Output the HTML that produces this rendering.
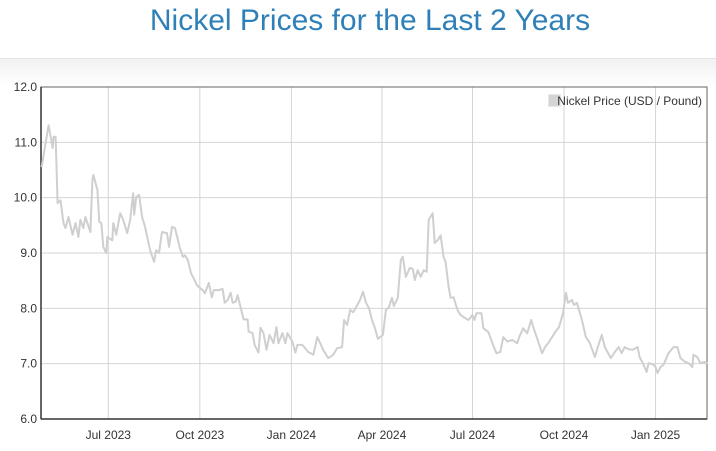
<!DOCTYPE html>
<html><head><meta charset="utf-8"><style>
html,body{margin:0;padding:0;background:#fff;width:716px;height:451px;overflow:hidden;font-family:"Liberation Sans",sans-serif}
#title{position:absolute;left:0;top:4px;width:740px;text-align:center;font-size:30px;color:#2f80b8}
#band{position:absolute;left:0;top:58px;width:716px;height:28px;border-top:1px solid #e4e4e4;background:linear-gradient(#f1f1f1,#fff)}
svg{position:absolute;left:0;top:0}
</style></head><body>
<div id="title">Nickel Prices for the Last 2 Years</div>
<div id="band"></div>
<svg id="chart" width="716" height="451"></svg>
<script>
// days since 2023-07-01
const days=[-67,-63,-60,-56,-55,-53,-51,-48,-45,-43,-40,-36,-33,-30,-28,-25,-23,-18,-16,-15,-11,-9,-7,-5,-2,-1,4,5,8,12,15,19,22,25,26,28,31,34,37,42,46,48,51,54,59,61,64,67,72,75,77,80,83,85,89,92,95,97,
101,104,106,111,115,117,120,123,125,128,130,133,136,140,141,145,147,151,153,156,159,162,166,169,171,175,178,180,185,188,190,195,201,206,210,213,216,221,226,230,235,237,240,243,246,249,253,256,259,262,265,268,271,276,279,282,285,287,291,294,296,299,
303,306,308,311,314,317,320,322,326,328,331,334,337,339,342,344,347,351,354,359,362,366,368,370,375,377,382,386,390,394,397,401,406,411,413,417,421,425,427,431,436,439,442,446,449,453,457,460,462,466,468,471,476,480,484,489,492,496,499,
505,509,513,516,519,523,527,532,534,538,541,543,548,550,552,555,558,563,568,572,575,580,583,587,588,592,595,599,602];
const prices=[10.55,10.99,11.31,10.9,11.1,11.1,9.9,9.95,9.54,9.45,9.65,9.33,9.54,9.29,9.6,9.45,9.65,9.38,10.32,10.41,10.14,9.56,9.54,9.11,9.0,9.29,9.23,9.54,9.33,9.72,9.6,9.36,9.6,10.08,9.69,10.01,10.05,9.65,9.47,9.05,8.84,9.05,9.0,9.38,9.36,9.11,9.47,9.45,9.09,8.93,8.96,8.87,8.64,8.57,8.42,8.37,8.33,8.27,
8.46,8.2,8.33,8.33,8.35,8.1,8.15,8.28,8.1,8.12,8.24,8.02,7.8,7.8,7.58,7.55,7.34,7.2,7.65,7.55,7.25,7.52,7.37,7.66,7.37,7.55,7.37,7.55,7.4,7.2,7.34,7.34,7.21,7.16,7.48,7.37,7.25,7.1,7.16,7.28,7.3,7.79,7.7,7.97,7.93,8.02,8.15,8.3,8.1,8.0,7.79,7.64,7.45,7.52,7.97,8.02,8.19,8.04,8.19,8.87,8.93,8.57,
8.73,8.71,8.51,8.69,8.57,8.69,8.66,9.6,9.72,9.18,9.23,9.32,8.93,8.84,8.39,8.19,8.2,7.97,7.88,7.82,7.79,7.88,7.79,7.91,7.91,7.64,7.57,7.37,7.19,7.21,7.48,7.4,7.43,7.37,7.48,7.64,7.55,7.79,7.66,7.46,7.19,7.3,7.37,7.48,7.57,7.66,7.91,8.28,8.1,8.15,8.06,8.1,7.79,7.48,7.37,7.12,7.3,7.52,7.3,
7.1,7.21,7.3,7.19,7.3,7.26,7.25,7.3,7.12,6.98,6.85,7.01,6.98,6.94,6.83,6.94,6.98,7.19,7.3,7.3,7.1,7.03,7.01,6.94,7.16,7.12,7.01,7.03,7.01];
const yTicks=[6,7,8,9,10,11,12];
const yTickLabels=["6.0","7.0","8.0","9.0","10.0","11.0","12.0"];
const xTickDays=[0,92,184,275,366,458,550];
const xTickLabels=["Jul 2023","Oct 2023","Jan 2024","Apr 2024","Jul 2024","Oct 2024","Jan 2025"];
const L=41,R=707,T=87,B=419;
const xs=d=>108.3+d*0.995;
const ys=v=>B-(v-6)/6*(B-T);
const svg=document.getElementById('chart');
const NS='http://www.w3.org/2000/svg';
function mk(t,a){const e=document.createElementNS(NS,t);for(const k in a)e.setAttribute(k,a[k]);svg.appendChild(e);return e;}
yTicks.forEach((v,i)=>{
  const g=mk('line',{x1:L,x2:R,y1:ys(v),y2:ys(v),stroke:'#d4d4d4','stroke-width':1});
  
  
  const t=mk('text',{x:37,y:ys(v)+4,'text-anchor':'end','font-size':12,fill:'#333'});
  t.textContent=yTickLabels[i];
  
  
});
xTickDays.forEach((d,i)=>{
  const g=mk('line',{x1:xs(d),x2:xs(d),y1:T,y2:B,stroke:'#d4d4d4','stroke-width':1});
  
  
  const t=mk('text',{x:xs(d),y:439,'text-anchor':'middle','font-size':12,fill:'#333'});
  t.textContent=xTickLabels[i];
  
  
});
const frame=mk('rect',{x:L,y:T,width:R-L,height:B-T,fill:'none',stroke:'#666','stroke-width':1});


const ya=mk('line',{x1:L,x2:L,y1:T,y2:B,stroke:'#333','stroke-width':1.5});


const xa=mk('line',{x1:L,x2:R,y1:B,y2:B,stroke:'#333','stroke-width':1.5});


const pts=days.map((d,i)=>xs(d).toFixed(1)+','+ys(prices[i]).toFixed(1)).join(' ');
const line=mk('polyline',{points:pts,fill:'none',stroke:'#cfcfcf','stroke-width':2,'stroke-linejoin':'round'});


const lb=mk('rect',{x:548.5,y:94.5,width:12,height:12,fill:'#d4d4d4',stroke:'#e8e8e8'});


const lt=mk('text',{x:702,y:105,'text-anchor':'end','font-size':12,fill:'#333'});
lt.textContent='Nickel Price (USD / Pound)';


</script>
</body></html>
